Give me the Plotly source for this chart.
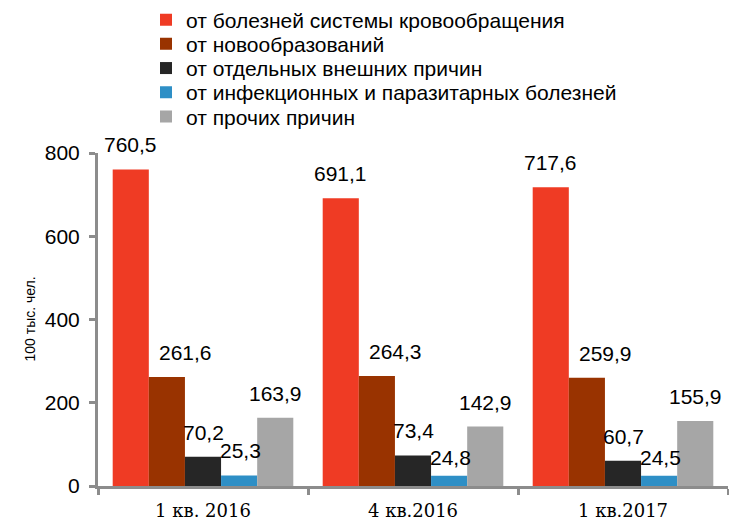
import plotly.graph_objects as go

categories = ["1 кв. 2016", "4 кв.2016", "1 кв.2017"]
series_names = [
    "от болезней системы кровообращения",
    "от новообразований",
    "от отдельных внешних причин",
    "от инфекционных и паразитарных болезней",
    "от прочих причин",
]
circulatory = [760.5, 691.1, 717.6]
neoplasms = [261.6, 264.3, 259.9]
external = [70.2, 73.4, 60.7]
infectious = [25.3, 24.8, 24.5]
other = [163.9, 142.9, 155.9]
y_ticks = [0, 200, 400, 600, 800]
y_title = "100 тыс. чел."

series_values = [circulatory, neoplasms, external, infectious, other]
colors = ["#EF3B24", "#993300", "#262626", "#2E8FC6", "#A6A6A6"]

# layout constants
W, H = 729, 520
ML, MR, MT, MB = 98, 1, 153, 34
BARGAP = 0.14
plot_w = W - ML - MR
bar_px = plot_w / len(categories) * (1 - BARGAP) / len(series_names)
SANS = "Arial, Liberation Sans"

# label fine placement (pixels) per series and per point
label_dx = [0, 19, 0, 1, 0]
label_dy = [[0, 0, 0], [0, 0, 0], [0, 0, 0], [0, -6, -6], [0, 0, 0]]

# legend rows (one legend per row to control row spacing)
LEG_TOP, LEG_STEP, LEG_X = 20, 24.2, 146

fig = go.Figure()
legend_layouts = {}
for k, (name, vals, col) in enumerate(zip(series_names, series_values, colors)):
    lname = "legend" if k == 0 else f"legend{k + 1}"
    fig.add_trace(go.Bar(x=categories, y=vals, name=name, marker_color=col,
                         marker_line_width=0, legend=lname))
    legend_layouts[lname] = dict(
        xref="container", yref="container",
        x=LEG_X / W, y=1 - (LEG_TOP + k * LEG_STEP) / H,
        xanchor="left", yanchor="middle",
        font=dict(family=SANS, size=21, color="#000000"),
        itemwidth=30, bgcolor="rgba(0,0,0,0)", borderwidth=0,
    )

annotations = []
n = len(series_names)
for i, vals in enumerate(series_values):
    for j, v in enumerate(vals):
        annotations.append(dict(
            x=categories[j], y=v, xref="x", yref="y",
            text=f"{v:.1f}".replace(".", ","),
            showarrow=False, yanchor="bottom", xanchor="center",
            xshift=(i - (n - 1) / 2) * bar_px + label_dx[i],
            yshift=11 + label_dy[i][j],
            font=dict(family=SANS, size=21, color="#000000"),
        ))
annotations.append(dict(
    text=y_title, xref="paper", yref="paper",
    x=-(ML - 29) / plot_w, y=0.5, xanchor="center", yanchor="middle",
    textangle=-90, showarrow=False,
    font=dict(family=SANS, size=14, color="#000000"),
))

fig.update_layout(
    width=W, height=H,
    margin=dict(l=ML, r=MR, t=MT, b=MB, pad=0, autoexpand=False),
    paper_bgcolor="white", plot_bgcolor="white",
    barmode="group", bargap=BARGAP, bargroupgap=0,
    font=dict(family=SANS, color="#000000"),
    showlegend=True,
    annotations=annotations,
    **legend_layouts,
)
fig.update_yaxes(
    range=[0, 800], tickvals=y_ticks, showgrid=False, zeroline=False,
    showline=True, linecolor="#8C8C8C", linewidth=3,
    ticks="outside", ticklen=6, tickwidth=3, tickcolor="#8C8C8C",
    ticklabelstandoff=5,
    tickfont=dict(family=SANS, size=21, color="#000000"),
)
fig.update_xaxes(
    showgrid=False, showline=True, linecolor="#8C8C8C", linewidth=3,
    ticks="outside", ticklen=6, tickwidth=3, tickcolor="#8C8C8C",
    tickson="boundaries", ticklabelstandoff=6, tickangle=0,
    tickfont=dict(family="Georgia, DejaVu Serif, Liberation Serif", size=18, color="#000000"),
)

fig.write_html("out.html", config={"displayModeBar": False},
               post_script="document.body.style.margin='0';")
